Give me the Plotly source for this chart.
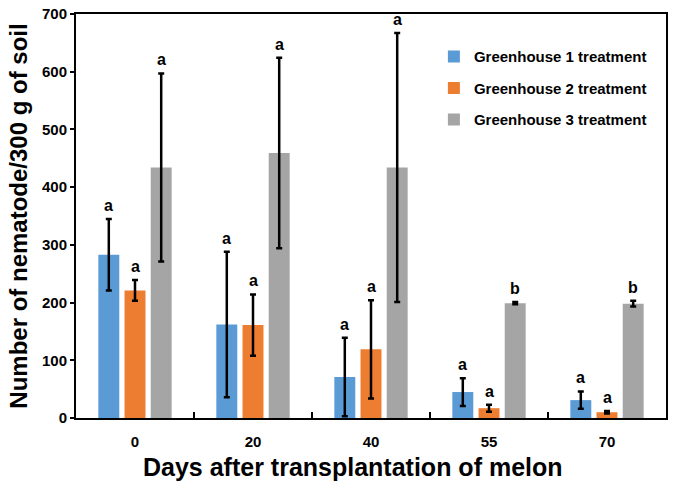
import plotly.graph_objects as go

days = ["0", "20", "40", "55", "70"]
series_names = ["Greenhouse 1 treatment", "Greenhouse 2 treatment", "Greenhouse 3 treatment"]
g1_mean = [283, 162, 71, 45, 31]
g1_err = [62, 126, 68, 24, 15]
g2_mean = [221, 161, 119, 17, 10]
g2_err = [18, 53, 85, 6, 2]
g3_mean = [434, 459, 434, 199, 198]
g3_err = [163, 165, 233, 2, 5]
g1_letters = ["a", "a", "a", "a", "a"]
g2_letters = ["a", "a", "a", "a", "a"]
g3_letters = ["a", "a", "a", "b", "b"]
x_title = "Days after transplantation of melon"
y_title = "Number of nematode/300 g of soil"

colors = ["#5B9BD5", "#ED7D31", "#A5A5A5"]
FONT = "Liberation Sans, Arial, sans-serif"

means = [g1_mean, g2_mean, g3_mean]
errs = [g1_err, g2_err, g3_err]
letters = [g1_letters, g2_letters, g3_letters]

W, H = 676, 494
ML, MR, MT, MB = 76, 10, 14, 76
BARGAP, GROUPGAP = 0.334, 0.2

fig = go.Figure()
for i in range(3):
    fig.add_trace(go.Bar(
        x=days, y=means[i], name=series_names[i],
        marker=dict(color=colors[i], line=dict(width=0)),
        error_y=dict(type="data", array=errs[i], visible=True,
                     color="black", thickness=2.5, width=3),
        legendgroup=f"g{i}",
    ))

plot_w = W - ML - MR
cat_w = plot_w / len(days)
slot = cat_w * (1 - BARGAP) / 3

annotations = []
for i in range(3):
    for j, d in enumerate(days):
        annotations.append(dict(
            x=j, y=means[i][j] + errs[i][j], xref="x", yref="y",
            text=letters[i][j], showarrow=False,
            xshift=(i - 1) * slot, yanchor="bottom", yshift=3,
            font=dict(family=FONT, size=16, color="black", weight="bold"),
        ))
annotations.append(dict(
    x=0.4695, y=0, xref="paper", yref="paper", text=x_title, showarrow=False,
    xanchor="center", yanchor="middle", yshift=-49,
    font=dict(family=FONT, size=25, color="black", weight="bold"),
))

fig.update_layout(
    width=W, height=H,
    margin=dict(l=ML, r=MR, t=MT, b=MB, autoexpand=False),
    barmode="group", bargap=BARGAP, bargroupgap=GROUPGAP,
    plot_bgcolor="white", paper_bgcolor="white",
    font=dict(family=FONT, color="black"),
    showlegend=True,
    legend=dict(x=0.6066, xanchor="left", y=0.935, yanchor="top",
                font=dict(family=FONT, size=15, color="black", weight="bold"),
                bgcolor="rgba(0,0,0,0)", tracegroupgap=9),
    annotations=annotations,
)
fig.update_xaxes(
    type="category", range=[-0.5, len(days) - 0.5], autorange=False,
    automargin=False,
    showline=True, linecolor="black", linewidth=2, mirror=True,
    ticks="inside", tickson="boundaries", ticklen=6, tickwidth=2, tickcolor="black",
    tickfont=dict(family=FONT, size=15, color="black", weight="bold"),
    tickangle=0, ticklabelstandoff=9,
    showgrid=False,
)
fig.update_yaxes(
    range=[0, 700], dtick=100, autorange=False,
    automargin=False,
    showline=True, linecolor="black", linewidth=2, mirror=True,
    ticks="outside", ticklen=4, tickwidth=2, tickcolor="black",
    tickfont=dict(family=FONT, size=15, color="black", weight="bold"),
    ticklabeloverflow="allow",
    title=dict(text=y_title,
               font=dict(family=FONT, size=24, color="black", weight="bold"), standoff=8),
    showgrid=False, zeroline=False,
)
fig.write_html("out.html", config={"displayModeBar": False},
               post_script="document.body.style.margin='0';")
